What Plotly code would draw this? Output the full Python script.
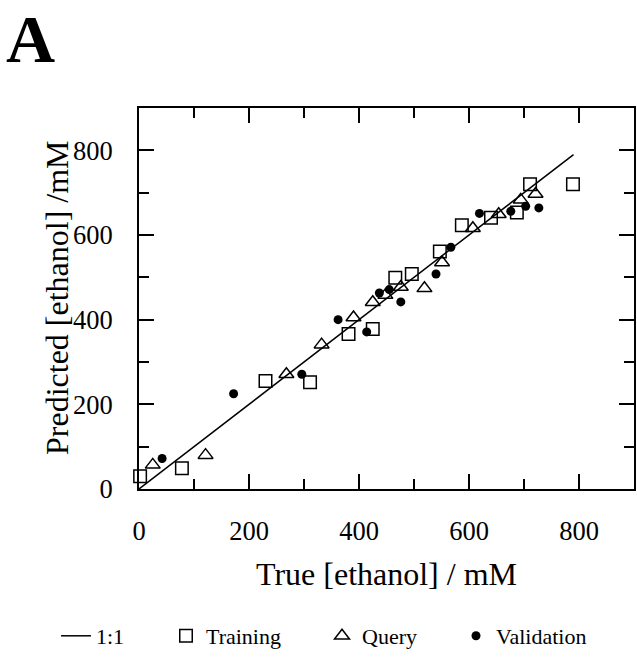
import plotly.graph_objects as go

# 1:1 line
line_x = [0, 790]
line_y = [0, 790]

train_x = [2, 78, 230, 311, 381, 425, 466, 496, 547, 587, 640, 687, 711, 789]
train_y = [30, 49, 255, 252, 366, 378, 499, 508, 561, 623, 641, 653, 720, 720]

query_x = [25, 121, 268, 332, 390, 425, 448, 476, 519, 551, 607, 654, 694, 721]
query_y = [57, 80, 271, 341, 405, 441, 458, 477, 474, 535, 616, 649, 683, 697]

valid_x = [42, 172, 296, 362, 414, 437, 455, 476, 540, 567, 619, 676, 703, 727]
valid_y = [72, 225, 271, 400, 371, 463, 471, 442, 508, 571, 651, 656, 668, 664]

tick_vals = [0, 200, 400, 600, 800]
tick_text = ["0", "200", "400", "600", "800"]

FONT = "Liberation Serif, Times New Roman, serif"

fig = go.Figure()
fig.add_trace(go.Scatter(x=line_x, y=line_y, mode="lines", name="1:1",
                         line=dict(color="black", width=1.5), legend="legend"))
fig.add_trace(go.Scatter(x=train_x, y=train_y, mode="markers", name="Training",
                         marker=dict(symbol="square-open", size=12.5, color="black",
                                     line=dict(width=1.5, color="black")),
                         cliponaxis=False, legend="legend2"))
fig.add_trace(go.Scatter(x=query_x, y=query_y, mode="markers", name="Query",
                         marker=dict(symbol="triangle-up-open", size=13, color="black",
                                     line=dict(width=1.5, color="black")),
                         cliponaxis=False, legend="legend3"))
fig.add_trace(go.Scatter(x=valid_x, y=valid_y, mode="markers", name="Validation",
                         marker=dict(symbol="circle", size=9, color="black"),
                         cliponaxis=False, legend="legend4"))

L, R, T, B = 139, 3, 108, 175
W, H = 637, 664
pw = W - L - R
ph = H - T - B

def px2x(px):
    return (px - L) / pw

def py2y(py):
    return (H - B - py) / ph

axis_common = dict(
    range=[0, 900], showgrid=False, zeroline=False,
    showline=True, linewidth=2, linecolor="black", mirror="ticks",
    ticks="inside", ticklen=15, tickwidth=2, tickcolor="black",
    tickvals=tick_vals, ticktext=tick_text,
    minor=dict(dtick=100, ticks="inside", ticklen=10, tickwidth=2, tickcolor="black", showgrid=False),
    tickfont=dict(family=FONT, size=26.5, color="black"),
)

leg_common = dict(orientation="h", yanchor="middle", xanchor="left",
                  font=dict(family=FONT, size=22, color="black"),
                  bgcolor="rgba(0,0,0,0)", borderwidth=0, itemwidth=30)
ly = py2y(636)

TITLE_SIZE = 32

fig.update_layout(
    width=W, height=H,
    margin=dict(l=L, r=R, t=T, b=B, autoexpand=False),
    paper_bgcolor="white", plot_bgcolor="white",
    font=dict(family=FONT, color="black"),
    xaxis=dict(axis_common, ticklabelstandoff=17,
               title=dict(text="True [ethanol] / mM", font=dict(family=FONT, size=TITLE_SIZE), standoff=18)),
    yaxis=dict(axis_common, ticklabelstandoff=19),
    showlegend=True,
    legend=dict(leg_common, x=px2x(56), y=ly),
    legend2=dict(leg_common, x=px2x(166), y=ly),
    legend3=dict(leg_common, x=px2x(322), y=ly),
    legend4=dict(leg_common, x=px2x(456), y=ly),
    annotations=[
        dict(text="<b>A</b>", x=px2x(4), y=py2y(39), xref="paper", yref="paper",
             xanchor="left", yanchor="middle", showarrow=False,
             font=dict(family=FONT, size=68, color="black")),
        dict(text="Predicted [ethanol] /mM", x=px2x(57), y=py2y(298), xref="paper", yref="paper",
             xanchor="center", yanchor="middle", showarrow=False, textangle=-90,
             font=dict(family=FONT, size=TITLE_SIZE, color="black")),
    ],
)

fig.write_html("out.html", config={"displayModeBar": False},
               post_script="document.body.style.margin='0';document.body.style.overflow='hidden';")
